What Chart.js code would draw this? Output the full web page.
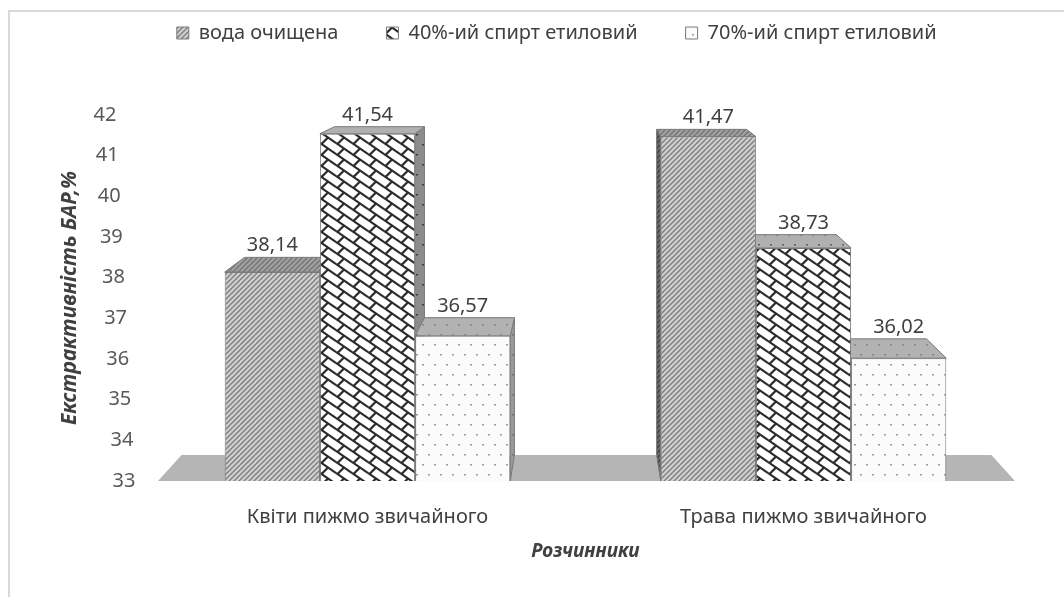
<!DOCTYPE html>
<html>
<head>
<meta charset="utf-8">
<script src="https://cdn.jsdelivr.net/npm/chart.js@4.4.1/dist/chart.umd.min.js"></script>
<style>
  html, body { margin: 0; padding: 0; background: #fff; }
  #wrap { position: relative; width: 1064px; height: 597px; overflow: hidden; }
  #frame { position: absolute; left: 8px; top: 10px; right: -4px; bottom: -4px;
           border-top: 2px solid #d9d9d9; border-left: 2px solid #d9d9d9; }
  canvas { position: absolute; left: 0; top: 0; }
</style>
</head>
<body>
<div id="wrap"><div id="frame"></div><canvas id="chart" width="1064" height="597"></canvas></div>
<script>
const categories = ['Квіти пижмо звичайного', 'Трава пижмо звичайного'];
const seriesNames = ['вода очищена', '40%-ий спирт етиловий', '70%-ий спирт етиловий'];
const water = [38.14, 41.47];
const ethanol40 = [41.54, 38.73];
const ethanol70 = [36.57, 36.02];
const yMin = 33;
const yMax = 42;

const chartFont = '"Noto Sans", "Open Sans", sans-serif';
const textColor = '#404040';
const edgeColor = '#7a7a7a';

// small tiles used as fills, like the Excel pattern fills
function makePattern(kind, bg, fg) {
    const c = document.createElement('canvas');
    const ctx = c.getContext('2d');
    let w, h;
    if (kind === 'hatch') { w = 5; h = 5; }
    else if (kind === 'brick') { w = 16; h = 11; }
    else { w = 12; h = 20; }
    c.width = w; c.height = h;
    ctx.fillStyle = bg;
    ctx.fillRect(0, 0, w, h);
    ctx.strokeStyle = fg;
    ctx.fillStyle = fg;
    for (const ox of [-w, 0, w]) {
        for (const oy of [-h, 0, h]) {
            if (kind === 'hatch') {
                ctx.lineWidth = 1.4;
                ctx.beginPath();
                ctx.moveTo(ox, oy + h);
                ctx.lineTo(ox + w, oy);
                ctx.stroke();
            } else if (kind === 'brick') {
                ctx.lineWidth = 2.2;
                ctx.beginPath();
                ctx.moveTo(ox, oy);
                ctx.lineTo(ox + w, oy + h);
                ctx.moveTo(ox + w / 2, oy + h / 2);
                ctx.lineTo(ox + w / 2 - 6.5, oy + h / 2 + 6.5);
                ctx.stroke();
            }
        }
    }
    if (kind === 'dots') {
        ctx.fillRect(2, 4, 2, 1.5);
        ctx.fillRect(8, 14, 2, 1.5);
    }
    return ctx.createPattern(c, 'repeat');
}

const frontPatterns = [
    makePattern('hatch', '#d0d0d0', '#7f7f7f'),
    makePattern('brick', '#ffffff', '#2b2b2b'),
    makePattern('dots', '#fbfbfb', '#9a9a9a')
];
const topPatterns = [
    makePattern('hatch', '#a2a2a2', '#737373'),
    makePattern('dots', '#b0b0b0', '#5e5e5e'),
    makePattern('dots', '#b2b2b2', '#858585')
];
const sidePatterns = [
    makePattern('hatch', '#6a6a6a', '#454545'),
    makePattern('dots', '#8c8c8c', '#3a3a3a'),
    makePattern('dots', '#9a9a9a', '#707070')
];

// perspective of the 3-D look
const depthScale = 0.945;
function vanishingPoint(area) {
    return { x: (area.left + area.right) / 2, y: area.top - 109 };
}
function toBack(x, y, vp) {
    return [vp.x + (x - vp.x) * depthScale, vp.y + (y - vp.y) * depthScale];
}
function fillPoly(ctx, pts, fill, stroke) {
    ctx.beginPath();
    pts.forEach(([x, y], i) => (i ? ctx.lineTo(x, y) : ctx.moveTo(x, y)));
    ctx.closePath();
    ctx.fillStyle = fill;
    ctx.fill();
    if (stroke) {
        ctx.strokeStyle = stroke;
        ctx.lineWidth = 1;
        ctx.stroke();
    }
}

const depthPlugin = {
    id: 'depth',
    beforeDatasetsDraw(chart) {
        const { ctx, chartArea: area } = chart;
        const vp = vanishingPoint(area);
        ctx.save();
        const fl = area.left + 8.5, fr = area.right - 6.5, fb = area.bottom;
        fillPoly(ctx, [[fl, fb], [fr, fb], toBack(fr, fb, vp), toBack(fl, fb, vp)], '#b5b5b5');

        const bars = [];
        chart.data.datasets.forEach((ds, i) => {
            chart.getDatasetMeta(i).data.forEach(el => {
                const { x, y, base, width } = el.getProps(['x', 'y', 'base', 'width'], true);
                bars.push({ l: x - width / 2, r: x + width / 2, t: y, b: Math.min(base, area.bottom), i });
            });
        });
        bars.forEach(bar => {
            if (bar.r < vp.x) {
                fillPoly(ctx, [[bar.r, bar.t], toBack(bar.r, bar.t, vp), toBack(bar.r, bar.b, vp), [bar.r, bar.b]],
                    sidePatterns[bar.i], edgeColor);
            } else if (bar.l > vp.x) {
                fillPoly(ctx, [[bar.l, bar.t], toBack(bar.l, bar.t, vp), toBack(bar.l, bar.b, vp), [bar.l, bar.b]],
                    sidePatterns[bar.i], edgeColor);
            }
        });
        bars.forEach(bar => {
            fillPoly(ctx, [[bar.l, bar.t], [bar.r, bar.t], toBack(bar.r, bar.t, vp), toBack(bar.l, bar.t, vp)],
                topPatterns[bar.i], edgeColor);
        });
        ctx.restore();
    },
    afterDatasetsDraw(chart) {
        const { ctx, chartArea: area } = chart;
        const vp = vanishingPoint(area);
        ctx.save();
        ctx.font = `20px ${chartFont}`;
        ctx.fillStyle = textColor;
        ctx.textAlign = 'center';
        ctx.textBaseline = 'alphabetic';
        chart.data.datasets.forEach((ds, i) => {
            chart.getDatasetMeta(i).data.forEach((el, j) => {
                const [, by] = toBack(el.x, el.y, vp);
                ctx.fillText(ds.data[j].toFixed(2).replace('.', ','), el.x, by - 6);
            });
        });

        // value axis labels follow the slanted wall edge
        const ys = chart.scales.y;
        ctx.fillStyle = '#595959';
        ctx.textAlign = 'right';
        ctx.textBaseline = 'middle';
        ys.ticks.forEach(t => {
            const py = ys.getPixelForValue(t.value);
            ctx.fillText(String(t.value), area.left - 14 - (area.bottom - py) * 0.052, py);
        });
        ctx.restore();
    }
};

const legendSpace = {
    id: 'legendSpace',
    beforeInit(chart) {
        const fit = chart.legend.fit;
        chart.legend.fit = function () {
            fit.call(this);
            this.height = 140;
        };
    }
};

new Chart(document.getElementById('chart'), {
    type: 'bar',
    data: {
        labels: categories,
        datasets: [
            { label: seriesNames[0], data: water, backgroundColor: frontPatterns[0] },
            { label: seriesNames[1], data: ethanol40, backgroundColor: frontPatterns[1] },
            { label: seriesNames[2], data: ethanol70, backgroundColor: frontPatterns[2] }
        ].map(ds => Object.assign(ds, {
            borderColor: edgeColor,
            borderWidth: 1,
            borderSkipped: false,
            categoryPercentage: 0.655,
            barPercentage: 1.0
        }))
    },
    options: {
        responsive: false,
        animation: false,
        layout: { padding: { left: 92, right: 42.5, top: -25, bottom: 0 } },
        scales: {
            x: {
                ticks: { font: { family: chartFont, size: 20 }, color: textColor, padding: 24 },
                grid: { display: false, drawTicks: false },
                border: { display: false },
                title: {
                    display: true,
                    text: 'Розчинники',
                    font: { family: chartFont, size: 19, weight: 'bold', style: 'italic' },
                    color: textColor,
                    padding: { top: 0, bottom: 33.6 }
                },
                afterFit(scale) { scale.height = 116; }
            },
            y: {
                min: yMin,
                max: yMax,
                ticks: { display: false, stepSize: 1 },
                grid: { display: false, drawTicks: false },
                border: { display: false },
                title: {
                    display: true,
                    text: 'Екстрактивність БАР,%',
                    font: { family: chartFont, size: 21, weight: 'bold', style: 'italic' },
                    color: textColor,
                    padding: { top: -34.6, bottom: 0 }
                },
                afterFit(scale) { scale.width = 57.5; }
            }
        },
        plugins: {
            legend: {
                position: 'top',
                labels: {
                    font: { family: chartFont, size: 20 },
                    color: textColor,
                    boxWidth: 12,
                    boxHeight: 12,
                    padding: 48
                }
            },
            tooltip: { enabled: false }
        }
    },
    plugins: [depthPlugin, legendSpace]
});
</script>
</body>
</html>
